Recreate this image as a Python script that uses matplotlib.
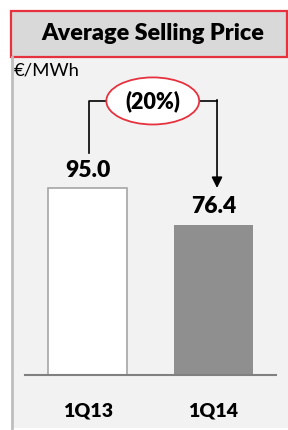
import matplotlib.pyplot as plt
from matplotlib.patches import Rectangle, Ellipse

# data
categories = ["1Q13", "1Q14"]
prices = [95.0, 76.4]
value_labels = ["95.0", "76.4"]
change_label = "(20%)"
title = "Average Selling Price"
unit = "€/MWh"

plt.rcParams['font.family'] = ['Lato', 'DejaVu Sans']
BOLD = 'heavy'

W, H = 288, 430
fig = plt.figure(figsize=(W / 100, H / 100), dpi=100)
fig.patch.set_facecolor('white')

# overlay in pixel coordinates for panel decoration
bg = fig.add_axes([0, 0, 1, 1])
bg.set_xlim(0, W)
bg.set_ylim(H, 0)
bg.axis('off')
bg.add_patch(Rectangle((11, 50), 290, 378, facecolor='#f2f2f2', edgecolor='none'))
bg.plot([11.5, 11.5], [57, 428], color='#bfbfbf', lw=2)
bg.add_patch(Rectangle((10.5, 10.5), 276, 46.5, facecolor='#d9d9d9',
                       edgecolor='#e5323e', lw=1.6))
bg.text(153, 34, title, ha='center', va='center', fontsize=16.8, fontweight=BOLD)
bg.text(14, 70, unit, ha='left', va='center', fontsize=13.3)

# chart axes
ax = fig.add_axes([25 / W, 55 / H, 251 / W, 315 / H])
ax.patch.set_alpha(0)
ax.set_xlim(-0.5, 1.5)
ax.set_ylim(0, 160)
x = [0, 1]
ax.bar(x[0], prices[0], width=0.63, color='white', edgecolor='#a6a6a6', lw=1.2)
ax.bar(x[1], prices[1], width=0.63, color='#8f8f8f', edgecolor='none')
for xi, v, s in zip(x, prices, value_labels):
    ax.text(xi, v + 9, s, ha='center', va='center', fontsize=16.5, fontweight=BOLD)

for sp in ['top', 'right', 'left']:
    ax.spines[sp].set_visible(False)
ax.spines['bottom'].set_color('#808080')
ax.spines['bottom'].set_linewidth(1.5)
ax.set_yticks([])
ax.set_xticks(x)
ax.set_xticklabels(categories, fontsize=14, fontweight=BOLD)
ax.tick_params(axis='x', length=0, pad=20)

# change bracket
top = 139.2
xl, xr = 0.012, 1.03
ax.plot([xl, xl, 0.15], [prices[0] + 17.8, top, top], color='black', lw=1.2, clip_on=False)
ax.plot([0.89, xr], [top, top], color='black', lw=1.2, clip_on=False)
ax.annotate('', xy=(xr, prices[1] + 18.6), xytext=(xr, top + 0.6),
            arrowprops=dict(arrowstyle='-|>', color='black', lw=1.2,
                            mutation_scale=16, shrinkA=0, shrinkB=0),
            annotation_clip=False)
ax.add_patch(Ellipse((0.518, top), 0.74, 23.9, facecolor='white',
                     edgecolor='#e5323e', lw=1.3, clip_on=False, zorder=3))
ax.text(0.518, top, change_label, ha='center', va='center', fontsize=15.5,
        fontweight=BOLD, zorder=4)

fig.savefig('out.png', dpi=100)
